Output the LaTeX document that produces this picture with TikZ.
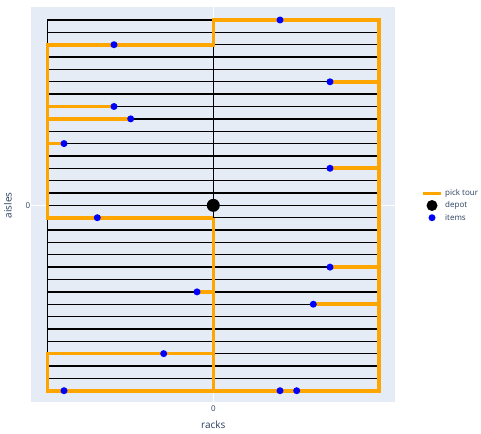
\documentclass[tikz,border=0pt]{standalone}
\usepackage{fontspec}
\setmainfont{Open Sans}
\definecolor{plotbg}{HTML}{E5ECF6}
\definecolor{tour}{HTML}{FFA500}
\definecolor{itemc}{HTML}{0000FF}
\definecolor{axtext}{HTML}{2A3F5F}
\tikzset{
  rack/.style={draw=black, line width=1.4pt},
  tourline/.style={draw=tour, line width=3.6pt, line join=miter},
  zeroline/.style={draw=white, line width=1.6pt},
  itemdot/.style={circle, fill=itemc, inner sep=0pt, minimum size=7pt},
  depotdot/.style={circle, fill=black, inner sep=0pt, minimum size=13pt},
  ticklab/.style={text=axtext, font=\fontsize{8}{9}\selectfont, inner sep=0pt},
  axlab/.style={text=axtext, font=\fontsize{10}{12}\selectfont, inner sep=0pt},
  leglab/.style={text=axtext, font=\fontsize{8}{9}\selectfont, inner sep=0pt, anchor=west},
}
\begin{document}
\begin{tikzpicture}[x=1pt,y=-1pt]
\useasboundingbox (0,0) rectangle (481,433);
\fill[white] (0,0) rectangle (481,433);
\fill[plotbg] (31,7.3) rectangle (395,402);
% zero lines
\draw[zeroline] (213.3,7.3) -- (213.3,402);
\draw[zeroline] (31,205.3) -- (395,205.3);
% row coordinates
\foreach \k in {0,...,30}{
  \pgfmathsetmacro{\yy}{20+12.357*\k}
  \coordinate (L\k) at (47.3,\yy);
  \coordinate (C\k) at (213.3,\yy);
  \coordinate (R\k) at (379,\yy);
}
% rack lines
\foreach \k in {0,...,30}{ \draw[rack] (L\k) -- (R\k); }
\draw[rack] (L0) -- (L30);
\draw[rack] (C0) -- (C30);
% items
\path (280,0 |- C0) coordinate (i1);
\path (114,0 |- C2) coordinate (i2);
\path (330,0 |- C5) coordinate (i3);
\path (114,0 |- C7) coordinate (i4);
\path (130.7,0 |- C8) coordinate (i5);
\path (64,0 |- C10) coordinate (i6);
\path (330,0 |- C12) coordinate (i7);
\path (97.3,0 |- C16) coordinate (i8);
\path (330,0 |- C20) coordinate (i9);
\path (197,0 |- C22) coordinate (i10);
\path (313.3,0 |- C23) coordinate (i11);
\path (163.7,0 |- C27) coordinate (i12);
\path (64,0 |- C30) coordinate (i13);
\path (280,0 |- C30) coordinate (i14);
\path (296.7,0 |- C30) coordinate (i15);
% pick tour
\draw[tourline] (C16) -- (L16) -- (L2) -- (C2) -- (C0) -- (R0) -- (R30) -- (L30) -- (L27) -- (C27);
\draw[tourline] (C16) -- (C30);
\draw[tourline] (L7) -- (i4);
\draw[tourline] (L8) -- (i5);
\draw[tourline] (L10) -- (i6);
\draw[tourline] (i3) -- (R5);
\draw[tourline] (i7) -- (R12);
\draw[tourline] (i9) -- (R20);
\draw[tourline] (i11) -- (R23);
\draw[tourline] (i10) -- (C22);
% depot and items
\node[depotdot] (depot) at (C15) {};
\foreach \i in {1,...,15}{ \node[itemdot] (n\i) at (i\i) {}; }
% axes labels
\node[ticklab] (xt0) at (213.3,409) {0};
\node[axlab] (xlab) at (213.3,425) {racks};
\node[ticklab, anchor=east] (yt0) at (30.5,205.3) {0};
\node[axlab, rotate=90] (ylab) at (8,205.3) {aisles};
% legend
\coordinate (lg1a) at (422.7,193.3);
\coordinate (lg1b) at (441,193.3);
\draw[tourline] (lg1a) -- (lg1b);
\node[leglab] (leg1) at (445,193.3) {pick tour};
\node[depotdot, minimum size=11pt] (legd) at (432,205.5) {};
\node[leglab] (leg2) at (445,205.5) {depot};
\node[itemdot] (legi) at (432,217.7) {};
\node[leglab] (leg3) at (445,217.7) {items};
\end{tikzpicture}
\end{document}
